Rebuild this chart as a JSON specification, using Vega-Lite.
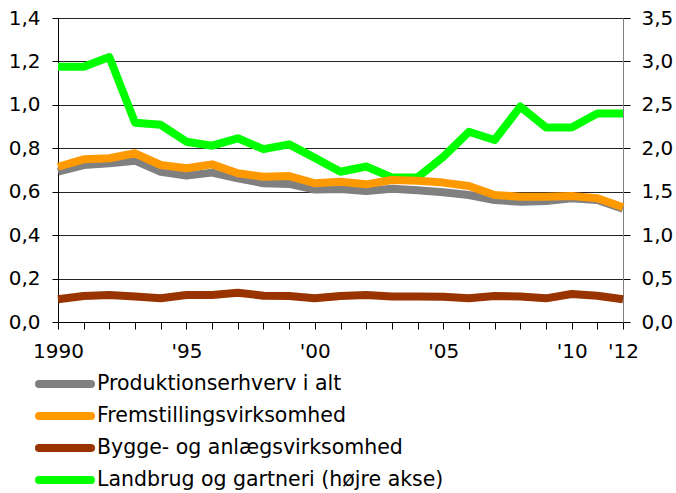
{
  "$schema": "https://vega.github.io/schema/vega-lite/v6.json",
  "width": 565,
  "height": 304,
  "autosize": {"type": "none"},
  "padding": {"left": 58, "top": 18, "right": 53, "bottom": 171},
  "background": "white",
  "config": {
    "font": "DejaVu Sans",
    "view": {"stroke": null},
    "axis": {"labelFont": "DejaVu Sans", "labelFontSize": 20, "labelColor": "#000"}
  },
  "data": {
    "values": [
      {"year": 1990, "series": "Landbrug og gartneri (højre akse)", "value": 2.94},
      {"year": 1991, "series": "Landbrug og gartneri (højre akse)", "value": 2.94},
      {"year": 1992, "series": "Landbrug og gartneri (højre akse)", "value": 3.05},
      {"year": 1993, "series": "Landbrug og gartneri (højre akse)", "value": 2.295},
      {"year": 1994, "series": "Landbrug og gartneri (højre akse)", "value": 2.27},
      {"year": 1995, "series": "Landbrug og gartneri (højre akse)", "value": 2.076},
      {"year": 1996, "series": "Landbrug og gartneri (højre akse)", "value": 2.03},
      {"year": 1997, "series": "Landbrug og gartneri (højre akse)", "value": 2.115},
      {"year": 1998, "series": "Landbrug og gartneri (højre akse)", "value": 1.99},
      {"year": 1999, "series": "Landbrug og gartneri (højre akse)", "value": 2.045},
      {"year": 2000, "series": "Landbrug og gartneri (højre akse)", "value": 1.89},
      {"year": 2001, "series": "Landbrug og gartneri (højre akse)", "value": 1.73},
      {"year": 2002, "series": "Landbrug og gartneri (højre akse)", "value": 1.79},
      {"year": 2003, "series": "Landbrug og gartneri (højre akse)", "value": 1.665},
      {"year": 2004, "series": "Landbrug og gartneri (højre akse)", "value": 1.665},
      {"year": 2005, "series": "Landbrug og gartneri (højre akse)", "value": 1.9},
      {"year": 2006, "series": "Landbrug og gartneri (højre akse)", "value": 2.19},
      {"year": 2007, "series": "Landbrug og gartneri (højre akse)", "value": 2.095},
      {"year": 2008, "series": "Landbrug og gartneri (højre akse)", "value": 2.48},
      {"year": 2009, "series": "Landbrug og gartneri (højre akse)", "value": 2.24},
      {"year": 2010, "series": "Landbrug og gartneri (højre akse)", "value": 2.24},
      {"year": 2011, "series": "Landbrug og gartneri (højre akse)", "value": 2.4},
      {"year": 2012, "series": "Landbrug og gartneri (højre akse)", "value": 2.4},
      {"year": 1990, "series": "Produktionserhverv i alt", "value": 0.692},
      {"year": 1991, "series": "Produktionserhverv i alt", "value": 0.723},
      {"year": 1992, "series": "Produktionserhverv i alt", "value": 0.731},
      {"year": 1993, "series": "Produktionserhverv i alt", "value": 0.743},
      {"year": 1994, "series": "Produktionserhverv i alt", "value": 0.692},
      {"year": 1995, "series": "Produktionserhverv i alt", "value": 0.674},
      {"year": 1996, "series": "Produktionserhverv i alt", "value": 0.688},
      {"year": 1997, "series": "Produktionserhverv i alt", "value": 0.662},
      {"year": 1998, "series": "Produktionserhverv i alt", "value": 0.639},
      {"year": 1999, "series": "Produktionserhverv i alt", "value": 0.636},
      {"year": 2000, "series": "Produktionserhverv i alt", "value": 0.61},
      {"year": 2001, "series": "Produktionserhverv i alt", "value": 0.613},
      {"year": 2002, "series": "Produktionserhverv i alt", "value": 0.603},
      {"year": 2003, "series": "Produktionserhverv i alt", "value": 0.614},
      {"year": 2004, "series": "Produktionserhverv i alt", "value": 0.607},
      {"year": 2005, "series": "Produktionserhverv i alt", "value": 0.598},
      {"year": 2006, "series": "Produktionserhverv i alt", "value": 0.585},
      {"year": 2007, "series": "Produktionserhverv i alt", "value": 0.562},
      {"year": 2008, "series": "Produktionserhverv i alt", "value": 0.554},
      {"year": 2009, "series": "Produktionserhverv i alt", "value": 0.557},
      {"year": 2010, "series": "Produktionserhverv i alt", "value": 0.57},
      {"year": 2011, "series": "Produktionserhverv i alt", "value": 0.562},
      {"year": 2012, "series": "Produktionserhverv i alt", "value": 0.522},
      {"year": 1990, "series": "Fremstillingsvirksomhed", "value": 0.715},
      {"year": 1991, "series": "Fremstillingsvirksomhed", "value": 0.749},
      {"year": 1992, "series": "Fremstillingsvirksomhed", "value": 0.754},
      {"year": 1993, "series": "Fremstillingsvirksomhed", "value": 0.777},
      {"year": 1994, "series": "Fremstillingsvirksomhed", "value": 0.723},
      {"year": 1995, "series": "Fremstillingsvirksomhed", "value": 0.708},
      {"year": 1996, "series": "Fremstillingsvirksomhed", "value": 0.726},
      {"year": 1997, "series": "Fremstillingsvirksomhed", "value": 0.685},
      {"year": 1998, "series": "Fremstillingsvirksomhed", "value": 0.669},
      {"year": 1999, "series": "Fremstillingsvirksomhed", "value": 0.672},
      {"year": 2000, "series": "Fremstillingsvirksomhed", "value": 0.639},
      {"year": 2001, "series": "Fremstillingsvirksomhed", "value": 0.646},
      {"year": 2002, "series": "Fremstillingsvirksomhed", "value": 0.634},
      {"year": 2003, "series": "Fremstillingsvirksomhed", "value": 0.654},
      {"year": 2004, "series": "Fremstillingsvirksomhed", "value": 0.65},
      {"year": 2005, "series": "Fremstillingsvirksomhed", "value": 0.642},
      {"year": 2006, "series": "Fremstillingsvirksomhed", "value": 0.626},
      {"year": 2007, "series": "Fremstillingsvirksomhed", "value": 0.585},
      {"year": 2008, "series": "Fremstillingsvirksomhed", "value": 0.577},
      {"year": 2009, "series": "Fremstillingsvirksomhed", "value": 0.577},
      {"year": 2010, "series": "Fremstillingsvirksomhed", "value": 0.58},
      {"year": 2011, "series": "Fremstillingsvirksomhed", "value": 0.57},
      {"year": 2012, "series": "Fremstillingsvirksomhed", "value": 0.528},
      {"year": 1990, "series": "Bygge- og anlægsvirksomhed", "value": 0.105},
      {"year": 1991, "series": "Bygge- og anlægsvirksomhed", "value": 0.12},
      {"year": 1992, "series": "Bygge- og anlægsvirksomhed", "value": 0.124},
      {"year": 1993, "series": "Bygge- og anlægsvirksomhed", "value": 0.117},
      {"year": 1994, "series": "Bygge- og anlægsvirksomhed", "value": 0.109},
      {"year": 1995, "series": "Bygge- og anlægsvirksomhed", "value": 0.124},
      {"year": 1996, "series": "Bygge- og anlægsvirksomhed", "value": 0.124},
      {"year": 1997, "series": "Bygge- og anlægsvirksomhed", "value": 0.135},
      {"year": 1998, "series": "Bygge- og anlægsvirksomhed", "value": 0.121},
      {"year": 1999, "series": "Bygge- og anlægsvirksomhed", "value": 0.12},
      {"year": 2000, "series": "Bygge- og anlægsvirksomhed", "value": 0.109},
      {"year": 2001, "series": "Bygge- og anlægsvirksomhed", "value": 0.12},
      {"year": 2002, "series": "Bygge- og anlægsvirksomhed", "value": 0.124},
      {"year": 2003, "series": "Bygge- og anlægsvirksomhed", "value": 0.117},
      {"year": 2004, "series": "Bygge- og anlægsvirksomhed", "value": 0.117},
      {"year": 2005, "series": "Bygge- og anlægsvirksomhed", "value": 0.116},
      {"year": 2006, "series": "Bygge- og anlægsvirksomhed", "value": 0.109},
      {"year": 2007, "series": "Bygge- og anlægsvirksomhed", "value": 0.12},
      {"year": 2008, "series": "Bygge- og anlægsvirksomhed", "value": 0.117},
      {"year": 2009, "series": "Bygge- og anlægsvirksomhed", "value": 0.109},
      {"year": 2010, "series": "Bygge- og anlægsvirksomhed", "value": 0.129},
      {"year": 2011, "series": "Bygge- og anlægsvirksomhed", "value": 0.121},
      {"year": 2012, "series": "Bygge- og anlægsvirksomhed", "value": 0.105}
    ]
  },
  "encoding": {
    "x": {
      "field": "year",
      "type": "quantitative",
      "scale": {"domain": [1990, 2012], "nice": false, "zero": false},
      "axis": {
        "title": null,
        "values": [1990,1991,1992,1993,1994,1995,1996,1997,1998,1999,2000,2001,2002,2003,2004,2005,2006,2007,2008,2009,2010,2011,2012],
        "labelExpr": "datum.value == 1990 ? '1990' : ((datum.value % 5 == 0 || datum.value == 2012) ? \"'\" + substring(toString(datum.value), 2, 4) : '')",
        "labelOverlap": false,
        "labelFlush": false,
        "grid": false,
        "domainColor": "#000",
        "domainWidth": 1,
        "tickColor": "#000",
        "tickSize": 7,
        "labelPadding": 12
      }
    }
  },
  "layer": [
    {
      "transform": [{"filter": "datum.series == 'Landbrug og gartneri (højre akse)'"}],
      "mark": {"type": "line", "strokeWidth": 8, "strokeJoin": "round"},
      "encoding": {
        "y": {
          "field": "value",
          "type": "quantitative",
          "scale": {"domain": [0, 3.5], "nice": false},
          "axis": {
            "orient": "right",
            "title": null,
            "values": [0, 0.5, 1, 1.5, 2, 2.5, 3, 3.5],
            "labelExpr": "replace(format(datum.value, '.1f'), '.', ',')",
            "grid": false,
            "domainColor": "#808080",
            "domainWidth": 1,
            "tickColor": "#000",
            "tickSize": 7,
            "labelPadding": 11
          }
        },
        "color": {
          "field": "series",
          "type": "nominal",
          "scale": {
            "domain": ["Produktionserhverv i alt", "Fremstillingsvirksomhed", "Bygge- og anlægsvirksomhed", "Landbrug og gartneri (højre akse)"],
            "range": ["#808080", "#FF9900", "#993300", "#00FF00"]
          },
          "legend": {
            "title": null,
            "orient": "none",
            "legendX": -5,
            "legendY": 354,
            "direction": "vertical",
            "symbolType": "M-3.25,0H3.25",
            "symbolSize": 256,
            "symbolStrokeWidth": 8,
            "labelFontSize": 20.5,
            "labelFont": "DejaVu Sans",
            "labelColor": "#000",
            "labelOffset": 20,
            "rowPadding": 0,
            "labelLimit": 600,
            "encode": {"symbols": {"update": {"strokeCap": {"value": "round"}}}}
          }
        }
      }
    },
    {
      "transform": [{"filter": "datum.series != 'Landbrug og gartneri (højre akse)'"}],
      "mark": {"type": "line", "strokeWidth": 8, "strokeJoin": "round"},
      "encoding": {
        "y": {
          "field": "value",
          "type": "quantitative",
          "scale": {"domain": [0, 1.4], "nice": false},
          "axis": {
            "orient": "left",
            "title": null,
            "values": [0, 0.2, 0.4, 0.6, 0.8, 1.0, 1.2, 1.4],
            "labelExpr": "replace(format(datum.value, '.1f'), '.', ',')",
            "grid": true,
            "gridColor": "#000",
            "gridOpacity": 0.85,
            "gridWidth": 1,
            "domainColor": "#000",
            "domainWidth": 1,
            "tickColor": "#000",
            "tickSize": 6,
            "labelPadding": 12
          }
        },
        "color": {"field": "series", "type": "nominal"}
      }
    }
  ],
  "resolve": {"scale": {"y": "independent"}}
}
